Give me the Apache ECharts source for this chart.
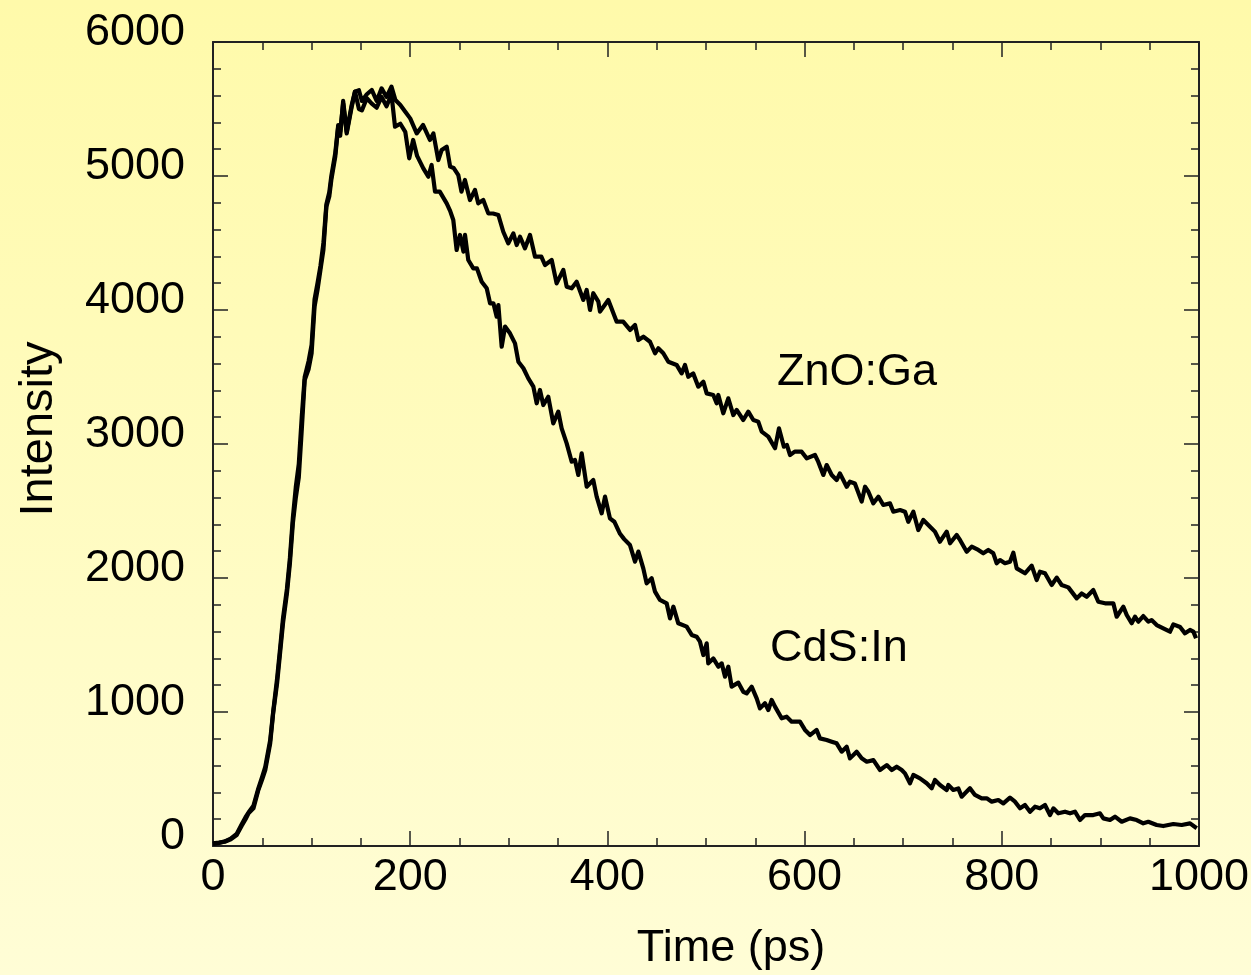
<!DOCTYPE html>
<html>
<head>
<meta charset="utf-8">
<title>Time-resolved luminescence of ZnO:Ga and CdS:In</title>
<script src="https://cdn.jsdelivr.net/npm/echarts@6/dist/echarts.min.js"></script>
<style>
  html, body { margin: 0; padding: 0; background: #fffbc0; }
  #chart { width: 1251px; height: 975px; }
</style>
</head>
<body>
<div id="chart"></div>
<script>
// Decay curves: [time in ps, intensity in counts]
const seriesNames = ['ZnO:Ga', 'CdS:In'];

const znoGa = [
  [0,20],[6,25],[12,32],[18,50],[24,82],[29,150],[33,200],[36,244],[41,281],[46,418],[50,500],[53,567],
  [58,766],[61,990],[65,1214],[68,1438],[71,1662],[75,1886],[78,2110],[81,2408],[84,2600],[87,2750],
  [90,3104],[93,3478],[97,3560],[100,3677],[103,4025],[106,4150],[109,4300],[112,4450],[115,4771],
  [118,4850],[120,4970],[124,5144],[127,5368],[129,5330],[132,5542],[135.6,5318],[140.7,5517],[144,5629],
  [148,5640],[151,5560],[156,5610],[161,5642],[166,5560],[171,5654],[176,5590],[181,5667],[185,5567],
  [190,5530],[195,5480],[200,5430],[206.6,5318],[213,5381],[220,5269],[223.5,5318],[228.5,5119],
  [231.9,5194],[237,5219],[240.5,5070],[244,5060],[248.8,5007],[252,4883],[255.5,4970],[260.6,4821],
  [265.7,4896],[269,4796],[274.1,4821],[279.2,4721],[284,4720],[289.4,4709],[294.4,4584],[299.5,4497],
  [304.6,4572],[308,4485],[311.4,4547],[316.4,4460],[321.5,4560],[326.6,4398],[333,4398],[336.7,4336],
  [343.5,4373],[348.5,4199],[355.3,4299],[358.7,4174],[363.8,4162],[368.8,4211],[375.6,4075],[379,4149],
  [382.4,4000],[385.7,4125],[390.8,4062],[392.5,3988],[400.9,4075],[409.4,3913],[416,3913],[423,3851],
  [428,3888],[431.4,3776],[436.5,3801],[443.2,3763],[448.3,3677],[451.6,3714],[456.7,3677],[461.8,3614],
  [470.2,3590],[475.3,3527],[478.7,3590],[482,3502],[487,3527],[492.2,3428],[497.3,3465],[500.7,3378],
  [507.4,3366],[510.8,3304],[512.5,3366],[517.5,3229],[522.6,3341],[527.7,3216],[531.1,3254],[537.8,3179],
  [542.9,3241],[548,3179],[553,3167],[556.5,3092],[563.2,3055],[570,2968],[574,3117],[579,2980],[582,2993],
  [585.2,2918],[590,2943],[597,2943],[602.1,2893],[610.5,2918],[613.8,2868],[619,2769],[622.4,2843],
  [627.5,2769],[632.5,2731],[635.8,2781],[642.7,2681],[646,2719],[651,2706],[657.9,2570],[661.3,2681],
  [664.7,2644],[669.7,2557],[674.8,2607],[679.8,2545],[686.6,2557],[690,2495],[696.8,2507],[701.8,2495],
  [705.2,2420],[710.3,2495],[715.3,2358],[720.4,2433],[727.2,2383],[732.2,2346],[737.3,2271],[744.1,2346],
  [747.5,2259],[754.2,2321],[757.6,2284],[764.4,2196],[769.5,2234],[776.2,2209],[781.2,2184],[786.3,2209],
  [791.4,2184],[794.8,2110],[798.2,2134],[803.2,2110],[808.3,2122],[811.7,2189],[815.1,2072],[823.5,2035],
  [830.3,2092],[835.4,1985],[838.7,2047],[843.8,2035],[850.6,1948],[855.7,2003],[860.7,1948],[867.5,1930],
  [876,1848],[881,1885],[886.1,1860],[892.8,1910],[897.9,1823],[904.7,1811],[913.1,1811],[916.5,1711],
  [923.3,1786],[926.7,1724],[931.7,1662],[935.1,1711],[938.5,1674],[943.5,1716],[948.6,1674],[951.9,1686],
  [957.1,1649],[963.8,1624],[970.6,1599],[974,1654],[980.8,1634],[985.8,1587],[990.9,1612],[994.3,1600],
  [997,1550]
];

const cdsIn = [
  [0,15],[6,22],[12,35],[18,55],[24,90],[29,160],[33,215],[36,250],[41,300],[46,430],[50,520],[53,590],
  [58,790],[61,1000],[65,1250],[68,1470],[71,1700],[75,1920],[78,2150],[81,2450],[84,2680],[87,2850],
  [90,3200],[93,3500],[97,3620],[100,3740],[103,4080],[106,4200],[109,4330],[112,4500],[115,4790],
  [118,4880],[120,5000],[124,5170],[127,5380],[129,5300],[132,5560],[135.6,5330],[140.7,5530],[144,5630],
  [148,5500],[151,5490],[156,5580],[161,5540],[166,5510],[171,5590],[176,5520],[181,5610],[184.6,5368],
  [190,5390],[195,5330],[199,5132],[203,5269],[207,5150],[213.3,5057],[218.4,4995],[221.7,5082],
  [225.2,4883],[230,4883],[237,4796],[240.5,4740],[243.7,4672],[247.1,4448],[250.5,4560],[254,4436],
  [255.6,4560],[258.9,4373],[264,4311],[267.7,4311],[272.5,4211],[277.6,4162],[281,4050],[284.4,4050],
  [287.7,3950],[289.4,4037],[292.8,3726],[296.2,3876],[301.2,3826],[306.3,3751],[309.7,3614],[314.8,3565],
  [319.8,3490],[324.9,3428],[328.3,3304],[331.6,3403],[335,3291],[340,3353],[345.1,3154],[350.2,3241],
  [353.6,3117],[358.7,3005],[363.8,2868],[367.1,2881],[370.5,2769],[373.9,2930],[379,2681],[385.7,2731],
  [389.1,2607],[394.2,2483],[397.6,2607],[402.6,2445],[407,2420],[412.8,2330],[417,2290],[422.9,2246],
  [428,2122],[431.4,2197],[436.4,2072],[439.8,1960],[444.9,1998],[448.3,1898],[453.3,1836],[460.1,1811],
  [463.5,1699],[466.9,1786],[471.9,1662],[480.4,1637],[485.5,1575],[490.5,1562],[493.9,1525],[497.3,1425],
  [500.7,1512],[502.3,1363],[507.4,1400],[512.5,1338],[515.9,1363],[519.3,1264],[522.6,1338],[526,1189],
  [532.8,1219],[537.8,1151],[541.2,1139],[546.3,1189],[551.4,1102],[554.7,1027],[559.8,1065],[563.2,1015],
  [566.6,1090],[570,1040],[576.7,953],[581.8,965],[586.9,928],[595.3,928],[600.4,866],[605.5,828],
  [612.2,866],[615.6,803],[622.4,791],[627.5,778],[632.5,766],[637.6,704],[642.7,741],[646,654],
  [652.8,704],[657.9,654],[663,629],[669.8,641],[676.5,567],[683.3,604],[688.4,567],[693.4,592],
  [698.5,567],[701.8,542],[706.9,468],[710.3,530],[717,505],[723.8,468],[728.9,431],[732.2,493],
  [737.3,455],[744.1,418],[745.8,455],[750.8,418],[755.9,430],[759.3,368],[762.7,393],[767.7,431],
  [772.8,381],[779.6,356],[784.7,356],[789.8,331],[796.5,343],[801.6,318],[808.3,361],[813.4,331],
  [818.5,281],[823.5,306],[828.6,256],[833.7,293],[838.7,281],[843.8,306],[848.9,231],[852.3,281],
  [857.3,244],[864.1,256],[869.2,244],[874.2,256],[879.3,194],[884.4,231],[892.8,231],[899.6,244],
  [903,206],[909.7,194],[914.8,219],[921.6,181],[930,206],[936.8,194],[943.5,169],[948.6,181],
  [957.1,157],[963.8,149],[974,164],[982.4,157],[990.9,169],[997.7,132]
];

const timeRange = [0, 1000];
const intensityRange = [0, 6000];

const FONT = "'Liberation Sans', Arial, Helvetica, sans-serif";
const TEXT_SIZE = 45;
const INK = '#000';
const AXIS = '#222';

// plain integers on the tick labels, no thousands separator
const plainNumber = v => String(Math.round(v));

function frameAxis(extra) {
  return Object.assign({
    type: 'value',
    axisLine: { show: true, onZero: false, lineStyle: { color: AXIS, width: 2 } },
    axisTick: { show: true, inside: true, length: 15, lineStyle: { color: AXIS, width: 1.5 } },
    splitLine: { show: false },
    minorSplitLine: { show: false }
  }, extra);
}

const chart = echarts.init(document.getElementById('chart'), null, { renderer: 'canvas' });

chart.setOption({
  animation: false,
  backgroundColor: {
    type: 'linear', x: 0, y: 0, x2: 0, y2: 1,
    colorStops: [
      { offset: 0, color: '#fffaaa' },
      { offset: 1, color: '#fffdd6' }
    ]
  },
  grid: { left: 213, right: 52, top: 42, bottom: 129, containLabel: false, outerBoundsMode: 'none' },
  xAxis: [
    frameAxis({
      position: 'bottom', min: timeRange[0], max: timeRange[1], interval: 200,
      minorTick: { show: true, splitNumber: 4, length: 8, lineStyle: { color: AXIS, width: 1.5 } },
      axisLabel: {
        show: true, margin: 9, showMinLabel: true, showMaxLabel: true, hideOverlap: false,
        color: INK, fontSize: TEXT_SIZE, fontFamily: FONT, formatter: plainNumber
      },
      name: 'Time (ps)', nameLocation: 'middle', nameGap: 80,
      nameTextStyle: { color: INK, fontSize: TEXT_SIZE, fontFamily: FONT, padding: [0, 0, 0, 50] }
    }),
    frameAxis({
      position: 'top', min: timeRange[0], max: timeRange[1], interval: 200,
      minorTick: { show: true, splitNumber: 4, length: 8, lineStyle: { color: AXIS, width: 1.5 } },
      axisLabel: { show: false }
    })
  ],
  yAxis: [
    frameAxis({
      position: 'left', min: intensityRange[0], max: intensityRange[1], interval: 1000,
      minorTick: { show: true, splitNumber: 5, length: 8, lineStyle: { color: AXIS, width: 1.5 } },
      axisLabel: {
        show: true, margin: 28, showMinLabel: true, showMaxLabel: true, hideOverlap: false,
        color: INK, fontSize: TEXT_SIZE, fontFamily: FONT, formatter: plainNumber,
        verticalAlign: 'bottom', lineHeight: 18
      },
      name: 'Intensity', nameLocation: 'middle', nameGap: 150,
      nameTextStyle: { color: INK, fontSize: 47, fontFamily: FONT, padding: [0, 0, 0, 30] }
    }),
    frameAxis({
      position: 'right', min: intensityRange[0], max: intensityRange[1], interval: 1000,
      minorTick: { show: true, splitNumber: 5, length: 8, lineStyle: { color: AXIS, width: 1.5 } },
      axisLabel: { show: false }
    })
  ],
  series: [
    {
      name: seriesNames[0], type: 'line', xAxisIndex: 0, yAxisIndex: 0,
      data: znoGa, showSymbol: false, symbol: 'none', clip: true,
      lineStyle: { color: INK, width: 4.2, join: 'round' },
      markPoint: {
        silent: true, symbol: 'circle', symbolSize: 0, animation: false,
        label: { show: true, position: 'right', distance: 0, color: INK, fontSize: TEXT_SIZE, fontFamily: FONT,
                 formatter: seriesNames[0] },
        data: [{ coord: [572, 3534] }]
      }
    },
    {
      name: seriesNames[1], type: 'line', xAxisIndex: 0, yAxisIndex: 0,
      data: cdsIn, showSymbol: false, symbol: 'none', clip: true,
      lineStyle: { color: INK, width: 4.2, join: 'round' },
      markPoint: {
        silent: true, symbol: 'circle', symbolSize: 0, animation: false,
        label: { show: true, position: 'right', distance: 0, color: INK, fontSize: TEXT_SIZE, fontFamily: FONT,
                 formatter: seriesNames[1] },
        data: [{ coord: [565, 1474] }]
      }
    }
  ]
});
</script>
</body>
</html>
